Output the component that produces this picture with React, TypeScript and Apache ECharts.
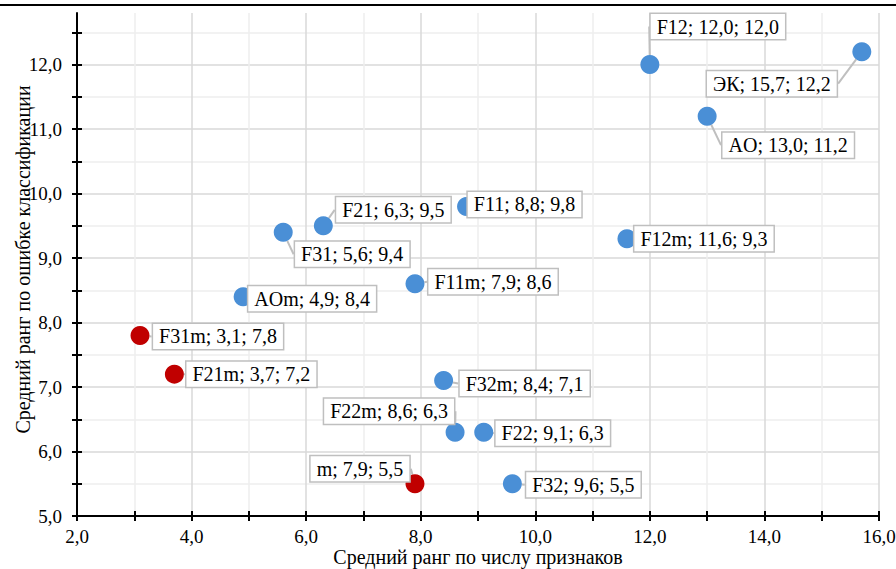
import React, { useEffect, useRef } from "react";
import * as echarts from "echarts";

// ---- data ----
const pointNames = ["F12", "ЭК", "AO", "F11", "F21", "F31", "F12m", "F11m", "AOm", "F31m", "F21m", "F32m", "F22m", "F22", "m", "F32"];
const xValues = [12.0, 15.7, 13.0, 8.8, 6.3, 5.6, 11.6, 7.9, 4.9, 3.1, 3.7, 8.4, 8.6, 9.1, 7.9, 9.6];
const yValues = [12.0, 12.2, 11.2, 9.8, 9.5, 9.4, 9.3, 8.6, 8.4, 7.8, 7.2, 7.1, 6.3, 6.3, 5.5, 5.5];
const pointGroup = ["b", "b", "b", "b", "b", "b", "b", "b", "b", "r", "r", "b", "b", "b", "r", "b"];

const xLabelValues = [2, 4, 6, 8, 10, 12, 14, 16];
const xTickValues = [2, 3, 4, 5, 6, 7, 8, 9, 10, 11, 12, 13, 14, 15, 16];
const xMinorGrid = [3, 5, 7, 9, 11, 13, 15];
const xMajorGrid = [4, 6, 8, 10, 12, 14, 16];
const yLabelValues = [5, 6, 7, 8, 9, 10, 11, 12];
const yTickValues = [5, 5.5, 6, 6.5, 7, 7.5, 8, 8.5, 9, 9.5, 10, 10.5, 11, 11.5, 12, 12.5];
const yMinorGrid = [5.5, 6.5, 7.5, 8.5, 9.5, 10.5, 11.5, 12.5];
const yMajorGrid = [6, 7, 8, 9, 10, 11, 12];

const xTitle = "Средний ранг по числу признаков";
const yTitle = "Средний ранг по ошибке классификации";

// label placement offsets (pixels, relative to the point)
const labelDx = [68, -90, 81, 58, 70, 69, 77, 78, 69, 78, 77, 81, -66, 69, -55, 71];
const labelDy = [-38, 32, 29, -2, -16, 22, 0, -2, 2, 1, 0, 3, -21, 1, -15, 1];

const groupColors: Record<string, string> = { b: "#4a8fd6", r: "#c00000" };

const fmt = (v: number) => v.toFixed(1).replace(".", ",");
const FONT = "Liberation Serif";

export default function App() {
  const ref = useRef<HTMLDivElement>(null);
  useEffect(() => {
    if (!ref.current) return;
    const chart = echarts.init(ref.current, null, { renderer: "svg" });
    const data = pointNames.map((n, i) => ({
      value: [xValues[i], yValues[i]],
      name: n,
      itemStyle: { color: groupColors[pointGroup[i]], opacity: 1 },
    }));
    const common = { min: 2, max: 16, type: "value" as const, position: "bottom" as const, gridIndex: 0 };
    const commonY = { min: 5, max: 12.8, type: "value" as const, position: "left" as const, gridIndex: 0 };
    const hidden = { axisLine: { show: false }, axisLabel: { show: false } };
    chart.setOption({
      animation: false,
      backgroundColor: "#ffffff",
      textStyle: { fontFamily: FONT },
      grid: { left: 77, right: 17, top: 13, bottom: 53, containLabel: false, outerBoundsMode: "none" },
      graphic: [
        { type: "line", shape: { x1: 0, y1: 5, x2: 896, y2: 5 }, style: { stroke: "#000", lineWidth: 2 } },
      ],
      xAxis: [
        {
          ...common,
          z: 10,
          name: xTitle,
          nameLocation: "middle",
          nameGap: 31,
          nameMoveOverlap: false,
          nameTextStyle: { fontFamily: FONT, fontSize: 20, color: "#000" },
          axisLine: { show: true, lineStyle: { color: "#000", width: 2 } },
          axisLabel: { customValues: xLabelValues, formatter: (v: number) => fmt(v), fontFamily: FONT, fontSize: 19, color: "#000", margin: 11 },
          axisTick: { show: true, customValues: xTickValues, length: 5, lineStyle: { color: "#000", width: 2 } },
          splitLine: { show: false },
        },
        {
          ...common,
          ...hidden,
          z: 10,
          axisTick: { show: true, inside: true, customValues: xTickValues, length: 5, lineStyle: { color: "#000", width: 2 } },
          splitLine: { show: false },
        },
        {
          ...common,
          ...hidden,
          axisTick: { show: false, customValues: xMinorGrid },
          splitLine: { show: true, lineStyle: { color: "#eeeeee", width: 1.5 } },
        },
        {
          ...common,
          ...hidden,
          axisTick: { show: false, customValues: xMajorGrid },
          splitLine: { show: true, lineStyle: { color: "#d9d9d9", width: 1.5 } },
        },
      ],
      yAxis: [
        {
          ...commonY,
          z: 10,
          name: yTitle,
          nameLocation: "middle",
          nameGap: 44,
          nameMoveOverlap: false,
          nameTextStyle: { fontFamily: FONT, fontSize: 20, color: "#000", padding: [0, 0, 0, 10] },
          axisLine: { show: true, lineStyle: { color: "#000", width: 2 } },
          axisLabel: { customValues: yLabelValues, formatter: (v: number) => fmt(v), fontFamily: FONT, fontSize: 19, color: "#000", margin: 15 },
          axisTick: { show: true, customValues: yTickValues, length: 5, lineStyle: { color: "#000", width: 2 } },
          splitLine: { show: false },
        },
        {
          ...commonY,
          ...hidden,
          z: 10,
          axisTick: { show: true, inside: true, customValues: yTickValues, length: 5, lineStyle: { color: "#000", width: 2 } },
          splitLine: { show: false },
        },
        {
          ...commonY,
          ...hidden,
          axisTick: { show: false, customValues: yMinorGrid },
          splitLine: { show: true, lineStyle: { color: "#eeeeee", width: 1.5 } },
        },
        {
          ...commonY,
          ...hidden,
          axisTick: { show: false, customValues: yMajorGrid },
          splitLine: { show: true, lineStyle: { color: "#d9d9d9", width: 1.5 } },
        },
      ],
      series: [
        {
          type: "scatter",
          xAxisIndex: 0,
          yAxisIndex: 0,
          symbolSize: 19,
          z: 5,
          data,
          label: {
            show: true,
            position: "inside",
            align: "center",
            verticalAlign: "middle",
            formatter: (p: any) => `${p.name}; ${fmt(p.value[0])}; ${fmt(p.value[1])}`,
            fontFamily: FONT,
            fontSize: 20,
            color: "#000",
            backgroundColor: "#ffffff",
            borderColor: "#bfbfbf",
            borderWidth: 1.5,
            padding: [3, 6, 2, 6],
          },
          labelLine: { show: true, lineStyle: { color: "#bfbfbf", width: 2 } },
          labelLayout: (p: any) => ({ dx: labelDx[p.dataIndex], dy: labelDy[p.dataIndex] }),
        },
      ],
    });
    return () => chart.dispose();
  }, []);
  return <div ref={ref} style={{ width: 896, height: 569, position: "absolute", left: 0, top: 0 }} />;
}
